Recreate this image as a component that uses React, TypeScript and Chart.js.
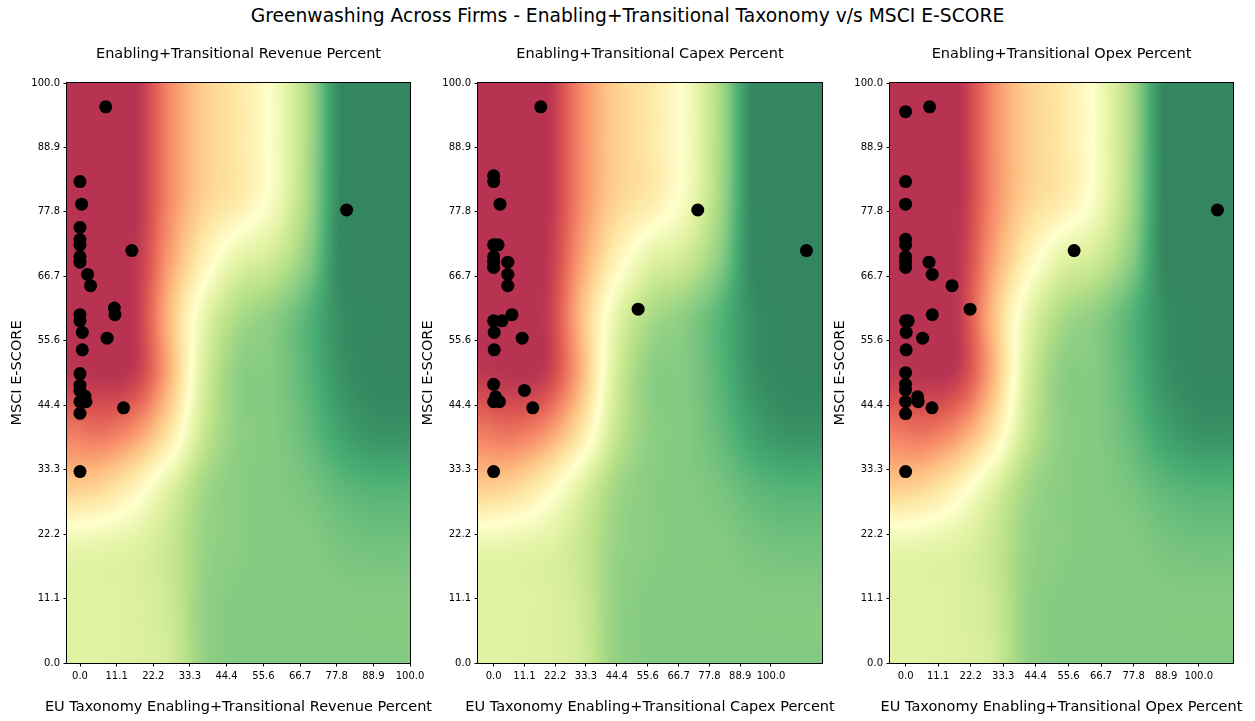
import React, { useEffect, useRef } from "react";
import { Chart, registerables } from "chart.js";

Chart.register(...registerables);

// ---------------- data ----------------
const SUPTITLE = "Greenwashing Across Firms - Enabling+Transitional Taxonomy v/s MSCI E-SCORE";
const Y_LABEL = "MSCI E-SCORE";
const TICK_LABELS = ["0.0", "11.1", "22.2", "33.3", "44.4", "55.6", "66.7", "77.8", "88.9", "100.0"];

const REV_X = [7.8, 0, 0.5, 0, 0, 0, 0, 0, 2.3, 3.2, 10.4, 10.6, 0, 0, 0.7, 8.2, 0.7, 80.8, 15.7, 0, 0, 0, 1.5, 0, 1.8, 0, 13.2, 0];
const REV_Y = [95.9, 83.0, 79.1, 75.1, 73.0, 72.1, 70.05, 69.1, 67.0, 65.05, 61.2, 60.05, 60.05, 59.0, 57.0, 56.0, 54.0, 78.1, 71.1, 49.9, 47.9, 46.9, 46.0, 45.05, 45.05, 43.05, 44.0, 33.0];

const CAPEX_X = [17.0, 0, 0, 2.3, 0, 1.6, 0, 0, 0, 5.1, 5.1, 5.1, 6.6, 0, 3.0, 0.2, 10.3, 0.2, 73.6, 112.8, 52.1, 0, 0.7, 0, 2.1, 11.1, 14.1, 0];
const CAPEX_Y = [95.9, 84.0, 83.0, 79.1, 72.1, 72.1, 70.05, 69.1, 68.2, 69.1, 67.0, 65.05, 60.05, 59.0, 59.0, 57.0, 56.0, 54.0, 78.1, 71.1, 61.0, 48.05, 45.9, 45.05, 45.05, 47.0, 44.0, 33.0];

const OPEX_X = [0, 8.2, 0, 0, 0, 0, 0, 0, 0, 8.0, 9.1, 15.85, 22.0, 9.1, 0, 0.9, 0.2, 5.8, 0.2, 57.5, 106.4, 0, 0, 0, 0, 4.1, 4.3, 9.0, 0, 0];
const OPEX_Y = [95.05, 95.9, 83.0, 79.1, 73.05, 72.1, 70.05, 69.1, 68.2, 69.1, 67.0, 65.05, 61.0, 60.05, 59.0, 59.0, 57.0, 56.0, 54.0, 71.1, 78.1, 50.05, 48.05, 47.07, 45.05, 45.9, 45.05, 44.0, 43.0, 33.0];

// background score field (rows top -> bottom, columns left -> right), shared by every panel
const BG_GRID = [
  [0, 0, 0, 0.2, 0.34, 0.41, 0.52, 0.72, 1, 1, 1],
  [0, 0, 0, 0.2, 0.34, 0.41, 0.52, 0.72, 1, 1, 1],
  [0, 0, 0, 0.2, 0.35, 0.42, 0.53, 0.73, 1, 1, 1],
  [0, 0, 0.01, 0.24, 0.44, 0.58, 0.64, 0.78, 1, 1, 1],
  [0, 0, 0.02, 0.3, 0.57, 0.72, 0.78, 0.87, 0.98, 1, 1],
  [0.02, 0, 0.03, 0.28, 0.62, 0.78, 0.8, 0.87, 0.97, 1, 1],
  [0.17, 0.15, 0.22, 0.4, 0.66, 0.78, 0.8, 0.85, 0.93, 0.97, 0.97],
  [0.34, 0.37, 0.46, 0.6, 0.74, 0.79, 0.8, 0.82, 0.86, 0.88, 0.88],
  [0.57, 0.58, 0.6, 0.66, 0.76, 0.79, 0.8, 0.8, 0.82, 0.83, 0.83],
  [0.6, 0.6, 0.61, 0.65, 0.77, 0.8, 0.8, 0.8, 0.8, 0.8, 0.8],
  [0.6, 0.6, 0.61, 0.64, 0.77, 0.8, 0.8, 0.8, 0.8, 0.8, 0.8],
];

const RDYLGN = [
  [165, 0, 38], [215, 48, 39], [244, 109, 67], [253, 174, 97], [254, 224, 139],
  [255, 255, 191], [217, 239, 139], [166, 217, 106], [102, 189, 99], [26, 152, 80], [0, 104, 55],
];
const BG_ALPHA = 0.8;

const FONT = "DejaVu Sans";
const LABEL_SIZE = 14.5;

type PanelDef = {
  title: string;
  xLabel: string;
  xs: number[];
  ys: number[];
  xMin: number;
  xMax: number;
  canvasLeft: number;
  canvasWidth: number;
  padRight: number;
};

const PANELS: PanelDef[] = [
  {
    title: "Enabling+Transitional Revenue Percent",
    xLabel: "EU Taxonomy Enabling+Transitional Revenue Percent",
    xs: REV_X, ys: REV_Y, xMin: -3.94, xMax: 100,
    canvasLeft: 0, canvasWidth: 440, padRight: 30,
  },
  {
    title: "Enabling+Transitional Capex Percent",
    xLabel: "EU Taxonomy Enabling+Transitional Capex Percent",
    xs: CAPEX_X, ys: CAPEX_Y, xMin: -5.64, xMax: 118.4,
    canvasLeft: 411, canvasWidth: 441, padRight: 30,
  },
  {
    title: "Enabling+Transitional Opex Percent",
    xLabel: "EU Taxonomy Enabling+Transitional Opex Percent",
    xs: OPEX_X, ys: OPEX_Y, xMin: -5.32, xMax: 111.7,
    canvasLeft: 823, canvasWidth: 432, padRight: 22,
  },
];

// ---------------- background helpers ----------------
function cubic(p0: number, p1: number, p2: number, p3: number, t: number) {
  return p1 + 0.5 * t * (p2 - p0 + t * (2 * p0 - 5 * p1 + 4 * p2 - p3 + t * (3 * (p1 - p2) + p3 - p0)));
}
function fieldAt(gx: number, gy: number) {
  const nR = BG_GRID.length, nC = BG_GRID[0].length;
  const ix = Math.min(nC - 2, Math.floor(gx));
  const iy = Math.min(nR - 2, Math.floor(gy));
  const fx = gx - ix, fy = gy - iy;
  const cx = (i: number) => Math.max(0, Math.min(nC - 1, i));
  const cy = (i: number) => Math.max(0, Math.min(nR - 1, i));
  const col: number[] = [];
  for (let j = -1; j <= 2; j++) {
    const r = BG_GRID[cy(iy + j)];
    col.push(cubic(r[cx(ix - 1)], r[cx(ix)], r[cx(ix + 1)], r[cx(ix + 2)], fx));
  }
  return cubic(col[0], col[1], col[2], col[3], fy);
}
function cmap(t: number) {
  const v = Math.max(0, Math.min(1, t)) * 10;
  const i = Math.min(9, Math.floor(v));
  const f = v - i;
  const a = RDYLGN[i], b = RDYLGN[i + 1];
  return [a[0] + (b[0] - a[0]) * f, a[1] + (b[1] - a[1]) * f, a[2] + (b[2] - a[2]) * f];
}

const bgPlugin = {
  id: "bgField",
  beforeDatasetsDraw(chart: any) {
    const { ctx, chartArea } = chart;
    const { left, top, right, bottom } = chartArea;
    const dpr = chart.currentDevicePixelRatio || 1;
    const w = Math.max(1, Math.round((right - left) * dpr));
    const h = Math.max(1, Math.round((bottom - top) * dpr));
    const off = document.createElement("canvas");
    off.width = w;
    off.height = h;
    const octx = off.getContext("2d")!;
    const img = octx.createImageData(w, h);
    const nC = BG_GRID[0].length - 1, nR = BG_GRID.length - 1;
    for (let py = 0; py < h; py++) {
      const gy = ((py + 0.5) / h) * nR;
      for (let px = 0; px < w; px++) {
        const gx = ((px + 0.5) / w) * nC;
        const c = cmap(fieldAt(gx, gy));
        const k = (py * w + px) * 4;
        img.data[k] = Math.round(c[0] * BG_ALPHA + 255 * (1 - BG_ALPHA));
        img.data[k + 1] = Math.round(c[1] * BG_ALPHA + 255 * (1 - BG_ALPHA));
        img.data[k + 2] = Math.round(c[2] * BG_ALPHA + 255 * (1 - BG_ALPHA));
        img.data[k + 3] = 255;
      }
    }
    octx.putImageData(img, 0, 0);
    ctx.save();
    ctx.drawImage(off, left, top, right - left, bottom - top);
    ctx.restore();
  },
};

const framePlugin = {
  id: "frameAndLabel",
  afterDraw(chart: any, _args: any, opts: any) {
    const { ctx, chartArea } = chart;
    const { left, top, right, bottom } = chartArea;
    ctx.save();
    ctx.strokeStyle = "#000";
    ctx.lineWidth = 1;
    ctx.strokeRect(left - 0.5, top - 0.5, right - left + 1, bottom - top + 1);
    if (opts && opts.text) {
      ctx.fillStyle = "#000";
      ctx.font = `${LABEL_SIZE}px "${FONT}"`;
      ctx.textAlign = "center";
      ctx.textBaseline = "middle";
      ctx.fillText(opts.text, (left + right) / 2, bottom + 44);
    }
    ctx.restore();
  },
};

const TICK_VALUES = TICK_LABELS.map(Number);

function Panel({ def }: { def: PanelDef }) {
  const ref = useRef<HTMLCanvasElement>(null);
  useEffect(() => {
    if (!ref.current) return;
    const points = def.xs.map((x, i) => ({ x, y: def.ys[i] }));
    const tickFont = { family: FONT, size: 10 };
    const chart = new Chart(ref.current, {
      type: "scatter",
      data: {
        datasets: [
          {
            data: points,
            backgroundColor: "#000",
            borderColor: "#000",
            borderWidth: 0,
            pointRadius: 6.5,
            pointHoverRadius: 6.5,
          },
        ],
      },
      options: {
        animation: false,
        responsive: false,
        events: [],
        layout: { padding: { left: 0, right: def.padRight, top: 0, bottom: 0 } },
        plugins: {
          legend: { display: false },
          tooltip: { enabled: false },
          title: {
            display: true,
            text: def.title,
            fullSize: false,
            color: "#000",
            font: { family: FONT, size: LABEL_SIZE, weight: "normal" as any },
            padding: { top: 46, bottom: 19.6 },
          },
          frameAndLabel: { text: def.xLabel },
        } as any,
        scales: {
          x: {
            type: "linear",
            min: def.xMin,
            max: def.xMax,
            afterBuildTicks: (s: any) => {
              s.ticks = TICK_VALUES.map((value) => ({ value }));
            },
            afterFit: (s: any) => {
              s.height = 58;
            },
            ticks: {
              autoSkip: false,
              maxRotation: 0,
              minRotation: 0,
              padding: 3.5,
              color: "#000",
              font: tickFont,
              callback: (v: any) => Number(v).toFixed(1),
            },
            grid: { drawOnChartArea: false, drawTicks: true, tickLength: 3.5, tickColor: "#000", tickWidth: 1 },
            border: { display: false },
          },
          y: {
            type: "linear",
            min: 0,
            max: 100,
            afterBuildTicks: (s: any) => {
              s.ticks = TICK_VALUES.map((value) => ({ value }));
            },
            afterFit: (s: any) => {
              s.width = 67;
            },
            ticks: {
              autoSkip: false,
              padding: 3.5,
              color: "#000",
              font: tickFont,
              callback: (v: any) => Number(v).toFixed(1),
            },
            grid: { drawOnChartArea: false, drawTicks: true, tickLength: 3.5, tickColor: "#000", tickWidth: 1 },
            border: { display: false },
            title: {
              display: true,
              text: Y_LABEL,
              color: "#000",
              font: { family: FONT, size: LABEL_SIZE },
              padding: { top: 9, bottom: 0 },
            },
          },
        },
      } as any,
      plugins: [bgPlugin, framePlugin],
    });
    return () => chart.destroy();
  }, [def]);
  return (
    <canvas
      ref={ref}
      width={def.canvasWidth}
      height={721}
      style={{ position: "absolute", left: def.canvasLeft, top: 0 }}
    />
  );
}

export default function App() {
  return (
    <div
      style={{
        position: "absolute",
        left: 0,
        top: 0,
        width: 1255,
        height: 721,
        overflow: "hidden",
        background: "#fff",
        fontFamily: FONT,
      }}
    >
      <div
        style={{
          position: "absolute",
          left: 0,
          top: 5,
          width: 1255,
          textAlign: "center",
          fontSize: 18.7,
          lineHeight: "22px",
          color: "#000",
          whiteSpace: "nowrap",
        }}
      >
        {SUPTITLE}
      </div>
      {PANELS.map((p) => (
        <Panel key={p.title} def={p} />
      ))}
    </div>
  );
}
